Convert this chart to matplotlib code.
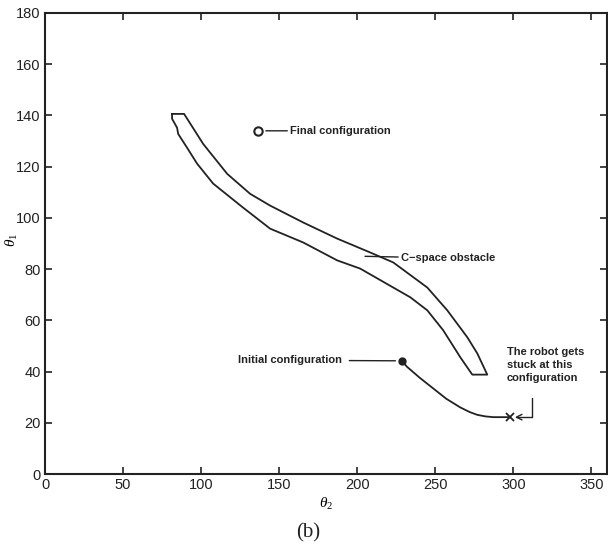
import matplotlib
matplotlib.use("Agg")
import matplotlib.pyplot as plt

# C-space obstacle boundary (theta2, theta1), traced clockwise from top-left
obst_t2 = [81.4, 89.1, 101.3, 116.7, 131.4, 144.2, 165.4, 187.2, 208.3, 223.1,
           244.9, 257.7, 270.5, 276.9, 283.3, 273.7, 266.0, 255.1, 244.9, 234.0,
           223.1, 212.8, 201.9, 187.2, 165.4, 144.2, 126.9, 107.7, 97.4, 91.0,
           85.3, 84.6, 81.4, 81.4]
obst_t1 = [140.6, 140.6, 128.9, 117.2, 109.4, 104.8, 98.2, 91.9, 86.5, 82.6,
           72.8, 63.9, 53.4, 47.1, 38.8, 38.8, 45.6, 56.1, 63.9, 69.0,
           72.8, 76.4, 80.2, 83.4, 90.4, 95.8, 104.0, 113.4, 121.2, 127.4,
           132.8, 135.2, 138.7, 140.6]

# robot path from initial configuration to stuck point
path_t2 = [228.8, 232.0, 240.0, 248.7, 257.0, 266.0, 272.0, 276.9, 282.0, 287.2, 298.0]
path_t1 = [44.0, 41.8, 37.6, 33.4, 29.4, 26.0, 24.2, 23.1, 22.5, 22.2, 22.2]

final_cfg = (136.5, 134.0)
initial_cfg = (228.8, 44.0)
stuck_cfg = (298.0, 22.2)

xticks = [0, 50, 100, 150, 200, 250, 300, 350]
yticks = [0, 20, 40, 60, 80, 100, 120, 140, 160, 180]

plt.rcParams['font.family'] = ['Liberation Sans', 'DejaVu Sans']
plt.rcParams['mathtext.fontset'] = 'custom'
plt.rcParams['mathtext.rm'] = 'Liberation Serif'
plt.rcParams['mathtext.it'] = 'Liberation Serif:italic'

fig = plt.figure(figsize=(6.08, 5.5), dpi=100)
ax = fig.add_axes([45/608, 1-474/550, (607-45)/608, (474-13)/550])

ax.plot(obst_t2, obst_t1, color='#222222', lw=1.3)
ax.plot(path_t2, path_t1, color='#222222', lw=1.3)
ax.plot(*initial_cfg, 'o', color='#222222', ms=5)
ax.plot(*stuck_cfg, 'x', color='#222222', ms=6, mew=1.3)
ax.plot(*final_cfg, 'o', mfc='white', mec='#222222', ms=6, mew=1.5)

ax.set_xlim(0, 360)
ax.set_ylim(0, 180)
ax.set_xticks(xticks)
ax.set_yticks(yticks)
ax.tick_params(direction='in', top=True, right=True, length=5, width=1.2,
               labelsize=10.5, pad=3, colors='#222222')
for s in ax.spines.values():
    s.set_linewidth(1.5)
    s.set_color('#222222')

ax.set_xlabel(r'$\theta_2$', fontsize=11, labelpad=3)
ax.set_ylabel(r'$\theta_1$', fontsize=11)
ax.yaxis.set_label_coords(-0.044, 0.508)

tk = dict(fontsize=8, color='#222222', fontweight='bold')
ax.annotate('Final configuration', xy=(141.5, 134.0), xytext=(157, 134.0),
            va='center', ha='left',
            arrowprops=dict(arrowstyle='-', color='#222222', lw=1.0,
                            shrinkA=0, shrinkB=0), **tk)
ax.annotate('C\u2212space obstacle', xy=(205, 85.0), xytext=(228, 84.3),
            va='center', ha='left',
            arrowprops=dict(arrowstyle='-', color='#222222', lw=1.0,
                            shrinkA=0, shrinkB=0), **tk)
ax.annotate('Initial configuration', xy=(224.5, 44.2), xytext=(190.5, 44.4),
            va='center', ha='right',
            arrowprops=dict(arrowstyle='-', color='#222222', lw=1.0,
                            shrinkA=3, shrinkB=0), **tk)
ax.text(296, 42.5, 'The robot gets\nstuck at this\nconfiguration',
        va='center', ha='left', linespacing=1.4, **tk)
ax.annotate('', xy=(301, 22.2), xytext=(312, 29.6),
            arrowprops=dict(arrowstyle='->', color='#222222', lw=1.0,
                            connectionstyle='angle,angleA=-90,angleB=180,rad=0',
                            shrinkA=0, shrinkB=0))

fig.text(308/608, 1-533/550, '(b)', ha='center', va='center', fontsize=15,
         family='Liberation Serif', color='#222222')

fig.savefig('out.png', dpi=100)
